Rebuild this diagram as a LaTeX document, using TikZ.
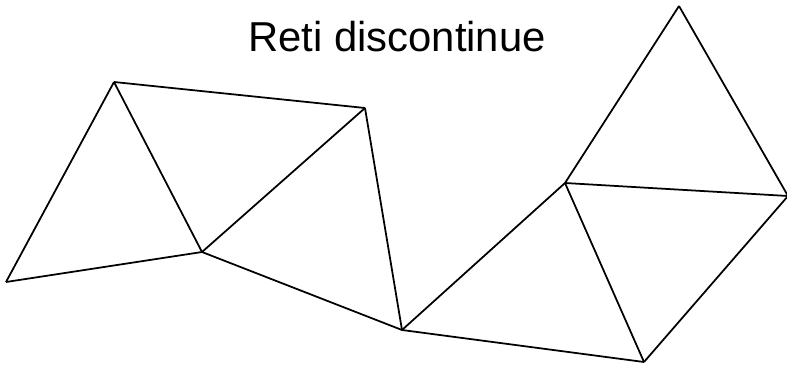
\documentclass[tikz,border=0pt]{standalone}
\usepackage{fontspec}
\setmainfont{Liberation Sans}

\begin{document}
\begin{tikzpicture}[x=0.02cm, y=-0.02cm, line join=round]
\tikzset{edge/.style={black, line width=1pt}}
\useasboundingbox (0,0) rectangle (787,365);

% title
\node[font=\fontsize{23.8}{28}\selectfont] (title) at (397,37) {Reti discontinue};

% vertices of the triangulation
\coordinate (A) at (6,282);
\coordinate (B) at (114,82);
\coordinate (C) at (202,252);
\coordinate (D) at (365,108);
\coordinate (E) at (402,330);
\coordinate (F) at (565,183);
\coordinate (G) at (644,362);
\coordinate (H) at (679,6);
\coordinate (I) at (788,196);

% edges
\foreach \p/\q in {A/B,B/C,C/A,B/D,C/D,C/E,D/E,E/F,E/G,F/G,F/H,H/I,F/I,G/I}{
  \draw[edge] (\p)--(\q);
}

\end{tikzpicture}
\end{document}
